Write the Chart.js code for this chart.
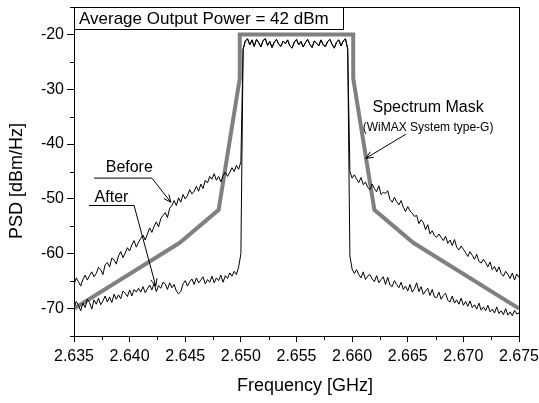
<!doctype html>
<html lang="en">
<head>
<meta charset="utf-8">
<title>PSD before / after linearization</title>
<style>
  html, body {margin: 0; padding: 0; background: #fff;}
</style>
</head>
<body>
<canvas id="myChart" width="539" height="403"></canvas>

<script src="https://cdn.jsdelivr.net/npm/chart.js@4/dist/chart.umd.min.js"></script>
<script>
// sampling grid of the analyser trace (GHz)
var freqStart = 2.635;
var freqStep = 0.0002;

// PSD readings [dBm/Hz], left skirt 2.6350-2.6500
var beforeLeft = [
  -65.6, -64.4, -65.1, -65.9, -64.7, -63.9, -64.8, -64.0, -63.3, -64.2,
  -63.6, -62.5, -62.9, -63.8, -62.0, -61.6, -62.4, -60.8, -61.1, -61.9,
  -60.4, -59.6, -60.7, -59.9, -58.9, -59.5, -58.4, -57.6, -58.8, -57.9,
  -57.2, -56.6, -57.5, -56.4, -55.3, -56.1, -55.0, -54.2, -55.1, -53.6,
  -53.0, -52.5, -53.4, -51.7, -51.2, -50.3, -51.2, -49.8, -50.6, -49.2,
  -50.0, -49.4, -48.3, -49.1, -48.6, -47.7, -48.6, -47.3, -48.1, -46.6,
  -47.1, -45.9, -46.4, -45.4, -46.6, -45.9, -46.9, -45.8, -45.1, -45.9,
  -45.2, -44.3, -45.0, -43.9, -44.6, -43.2
];
var afterLeft = [
  -69.9, -68.7, -69.4, -70.4, -69.0, -69.8, -68.3, -68.9, -70.1, -68.4,
  -69.2, -68.1, -69.3, -68.6, -67.7, -68.8, -67.9, -68.9, -67.4, -68.3,
  -67.5, -68.2, -66.8, -67.2, -67.8, -66.6, -67.7, -66.5, -67.0, -66.3,
  -67.0, -66.0, -67.1, -66.4, -65.7, -66.6, -65.4, -66.9, -65.8, -66.3,
  -65.2, -65.5, -66.5, -65.3, -66.2, -65.6, -66.8, -67.3, -66.9, -65.5,
  -64.9, -65.9, -65.1, -64.6, -65.6, -64.4, -65.3, -64.8, -64.2, -65.5,
  -64.7, -65.2, -64.1, -65.3, -64.4, -64.9, -63.9, -65.2, -64.0, -64.5,
  -63.5, -64.1, -63.2, -63.8, -62.4, -60.0
];
// in-band 2.6502-2.6596, both traces sit on top of each other here
var topBand = [
  -22.7, -21.2, -20.8, -21.9, -21.0, -22.2, -20.9, -21.5, -22.3, -21.1,
  -20.8, -22.0, -21.3, -22.4, -21.4, -20.9, -21.8, -22.2, -21.2, -21.7,
  -21.0, -22.1, -22.5, -21.4, -20.9, -21.9, -21.3, -22.3, -21.5, -20.9,
  -21.8, -22.4, -21.2, -21.6, -22.1, -21.0, -21.9, -22.2, -21.3, -20.9,
  -21.8, -22.5, -21.4, -21.0, -22.1, -21.2, -20.8, -22.6
];
// right skirt 2.6598-2.6750
var beforeRight = [
  -45.0, -46.2, -45.6, -46.4, -47.0, -46.1, -47.4, -46.9, -47.9, -48.3,
  -47.3, -48.1, -48.7, -47.6, -49.2, -48.8, -49.0, -48.5, -50.1, -50.6,
  -49.7, -50.5, -51.1, -50.3, -51.5, -52.3, -51.4, -52.2, -52.6, -53.2,
  -53.0, -54.5, -53.8, -54.3, -55.6, -54.7, -56.4, -55.8, -56.7, -57.0,
  -56.4, -57.0, -57.6, -56.8, -58.1, -57.5, -58.5, -57.4, -58.8, -59.3,
  -58.6, -59.2, -59.8, -60.5, -59.6, -60.3, -61.0, -60.1, -61.4, -61.7,
  -61.0, -61.6, -62.4, -61.5, -62.9, -62.3, -63.3, -62.4, -63.6, -64.1,
  -63.2, -63.8, -64.5, -63.5, -64.8, -63.7, -64.3
];
var afterRight = [
  -60.4, -62.8, -63.6, -62.9, -63.8, -64.4, -63.3, -64.7, -64.1, -63.8,
  -64.6, -65.1, -64.0, -65.3, -64.7, -64.2, -65.6, -64.3, -65.7, -66.0,
  -64.9, -65.6, -66.2, -65.2, -66.5, -65.9, -66.8, -65.6, -67.0, -66.4,
  -65.3, -66.9, -66.0, -67.4, -66.8, -66.3, -67.6, -66.5, -67.9, -68.0,
  -67.0, -68.3, -67.6, -67.2, -68.5, -68.8, -67.7, -69.0, -68.4, -69.2,
  -68.1, -69.4, -68.7, -69.6, -68.6, -69.8, -69.3, -70.1, -69.0, -70.3,
  -69.7, -70.4, -69.4, -70.6, -70.1, -70.8, -69.7, -70.9, -70.4, -71.1,
  -70.0, -71.2, -70.6, -71.3, -70.3, -71.0, -70.8
];

// WiMAX system type-G spectrum mask
var maskFreq = [2.635, 2.6445, 2.648, 2.6499, 2.6499, 2.6601, 2.6601, 2.662, 2.6655, 2.675];
var maskPsd  = [-70, -58, -52, -28, -20, -20, -28, -52, -58, -70];

// axis ticks
var xTicks = [2.635, 2.640, 2.645, 2.650, 2.655, 2.660, 2.665, 2.670, 2.675];
var xTickLabels = ["2.635", "2.640", "2.645", "2.650", "2.655", "2.660", "2.665", "2.670", "2.675"];
var xMinorTicks = [2.6375, 2.6425, 2.6475, 2.6525, 2.6575, 2.6625, 2.6675, 2.6725];
var yTicks = [-70, -60, -50, -40, -30, -20];
var yTickLabels = ["-70", "-60", "-50", "-40", "-30", "-20"];
var yMinorTicks = [-75, -65, -55, -45, -35, -25, -15];

var FONT = "'Liberation Sans', Arial, sans-serif";

var freq = [];
for (var i = 0; i < beforeLeft.length + topBand.length + beforeRight.length; i++) {
  freq.push(+(freqStart + i * freqStep).toFixed(4));
}
var beforePsd = beforeLeft.concat(topBand, beforeRight);
var afterPsd = afterLeft.concat(topBand, afterRight);

function toPoints(xs, ys) {
  return ys.map(function (y, i) { return {x: xs[i], y: y}; });
}

function arrow(ctx, x0, y0, x1, y1) {
  var a = Math.atan2(y1 - y0, x1 - x0), len = 8, spread = 0.42;
  ctx.beginPath();
  ctx.moveTo(x0, y0);
  ctx.lineTo(x1, y1);
  ctx.moveTo(x1 - len * Math.cos(a - spread), y1 - len * Math.sin(a - spread));
  ctx.lineTo(x1, y1);
  ctx.lineTo(x1 - len * Math.cos(a + spread), y1 - len * Math.sin(a + spread));
  ctx.stroke();
}

// frame, minor ticks, inset box, labels and arrows
var decorations = {
  id: 'decorations',
  afterDraw: function (chart) {
    var ctx = chart.ctx, area = chart.chartArea;
    var xs = chart.scales.x, ys = chart.scales.y;
    var px = function (v) { return xs.getPixelForValue(v); };
    var py = function (v) { return ys.getPixelForValue(v); };
    ctx.save();
    ctx.strokeStyle = '#000';
    ctx.fillStyle = '#000';
    ctx.lineWidth = 1;

    // frame
    ctx.strokeRect(Math.round(area.left) + 0.5, Math.round(area.top) + 0.5,
                   Math.round(area.right - area.left), Math.round(area.bottom - area.top));

    // minor ticks
    ctx.beginPath();
    xMinorTicks.forEach(function (v) {
      var x = Math.round(px(v)) + 0.5;
      ctx.moveTo(x, area.bottom); ctx.lineTo(x, area.bottom + 4);
    });
    yMinorTicks.forEach(function (v) {
      var y = Math.round(py(v)) + 0.5;
      ctx.moveTo(area.left - 4, y); ctx.lineTo(area.left, y);
    });
    ctx.stroke();

    // inset title box
    ctx.fillStyle = '#fff';
    ctx.fillRect(area.left, area.top, 269, 22);
    ctx.strokeRect(Math.round(area.left) + 0.5, Math.round(area.top) + 0.5, 269, 22);
    ctx.fillStyle = '#000';
    ctx.font = '17px ' + FONT;
    ctx.textAlign = 'left';
    ctx.textBaseline = 'alphabetic';
    ctx.fillText('Average Output Power = 42 dBm', area.left + 5, area.top + 17);

    // trace labels
    ctx.font = '16px ' + FONT;
    ctx.fillText('Before', px(2.63785), py(-45.15));
    ctx.beginPath();
    ctx.moveTo(px(2.6368), py(-46.2)); ctx.lineTo(px(2.6420), py(-46.2));
    ctx.stroke();
    arrow(ctx, px(2.6420), py(-46.2), px(2.6437), py(-50.6));

    ctx.fillText('After', px(2.63685), py(-50.55));
    ctx.beginPath();
    ctx.moveTo(px(2.63635), py(-51.2)); ctx.lineTo(px(2.6404), py(-51.2));
    ctx.stroke();
    arrow(ctx, px(2.6404), py(-51.2), px(2.64235), py(-65.9));

    ctx.textAlign = 'center';
    ctx.fillText('Spectrum Mask', px(2.66683), py(-34.2));
    ctx.font = '12px ' + FONT;
    ctx.fillText('(WiMAX System type-G)', px(2.66683), py(-37.6));
    arrow(ctx, px(2.66483), py(-38.2), px(2.66123), py(-42.6));

    // axis titles
    ctx.font = '18px ' + FONT;
    ctx.textBaseline = 'middle';
    ctx.fillText('Frequency [GHz]', 305, 386);
    ctx.translate(17, 181);
    ctx.rotate(-Math.PI / 2);
    ctx.fillText('PSD [dBm/Hz]', 0, 0);
    ctx.restore();
  }
};

var ctx = document.getElementById('myChart').getContext('2d');
var myChart = new Chart(ctx, {
  type: 'line',
  data: {
    datasets: [{
      label: 'Before',
      data: toPoints(freq, beforePsd),
      borderColor: '#000',
      borderWidth: 1,
      pointRadius: 0,
      fill: false
    }, {
      label: 'After',
      data: toPoints(freq, afterPsd),
      borderColor: '#000',
      borderWidth: 1,
      pointRadius: 0,
      fill: false
    }, {
      label: 'Spectrum Mask',
      data: toPoints(maskFreq, maskPsd),
      borderColor: '#808080',
      borderWidth: 4,
      borderJoinStyle: 'miter',
      pointRadius: 0,
      fill: false
    }]
  },
  options: {
    responsive: false,
    animation: false,
    devicePixelRatio: 1,
    layout: {padding: {top: 7, right: 20, left: 0, bottom: 0}},
    plugins: {legend: {display: false}, tooltip: {enabled: false}},
    scales: {
      x: {
        type: 'linear',
        min: 2.635,
        max: 2.675,
        afterBuildTicks: function (s) { s.ticks = xTicks.map(function (v) { return {value: v}; }); },
        afterFit: function (s) { s.height = 67; s.paddingLeft = 0; s.paddingRight = 0; },
        ticks: {
          callback: function (v, i) { return xTickLabels[i]; },
          color: '#000', font: {family: FONT, size: 16}, padding: 5,
          maxRotation: 0, autoSkip: false
        },
        grid: {drawOnChartArea: false, tickLength: 6, color: '#000'},
        border: {color: '#000', width: 1}
      },
      y: {
        min: -75,
        max: -15,
        afterBuildTicks: function (s) { s.ticks = yTicks.map(function (v) { return {value: v}; }); },
        afterFit: function (s) { s.width = 74; s.paddingTop = 0; s.paddingBottom = 0; },
        ticks: {
          callback: function (v, i) { return yTickLabels[i]; },
          color: '#000', font: {family: FONT, size: 16}, padding: 3
        },
        grid: {drawOnChartArea: false, tickLength: 7, color: '#000'},
        border: {color: '#000', width: 1}
      }
    }
  },
  plugins: [decorations]
});
</script>
</body>
</html>
